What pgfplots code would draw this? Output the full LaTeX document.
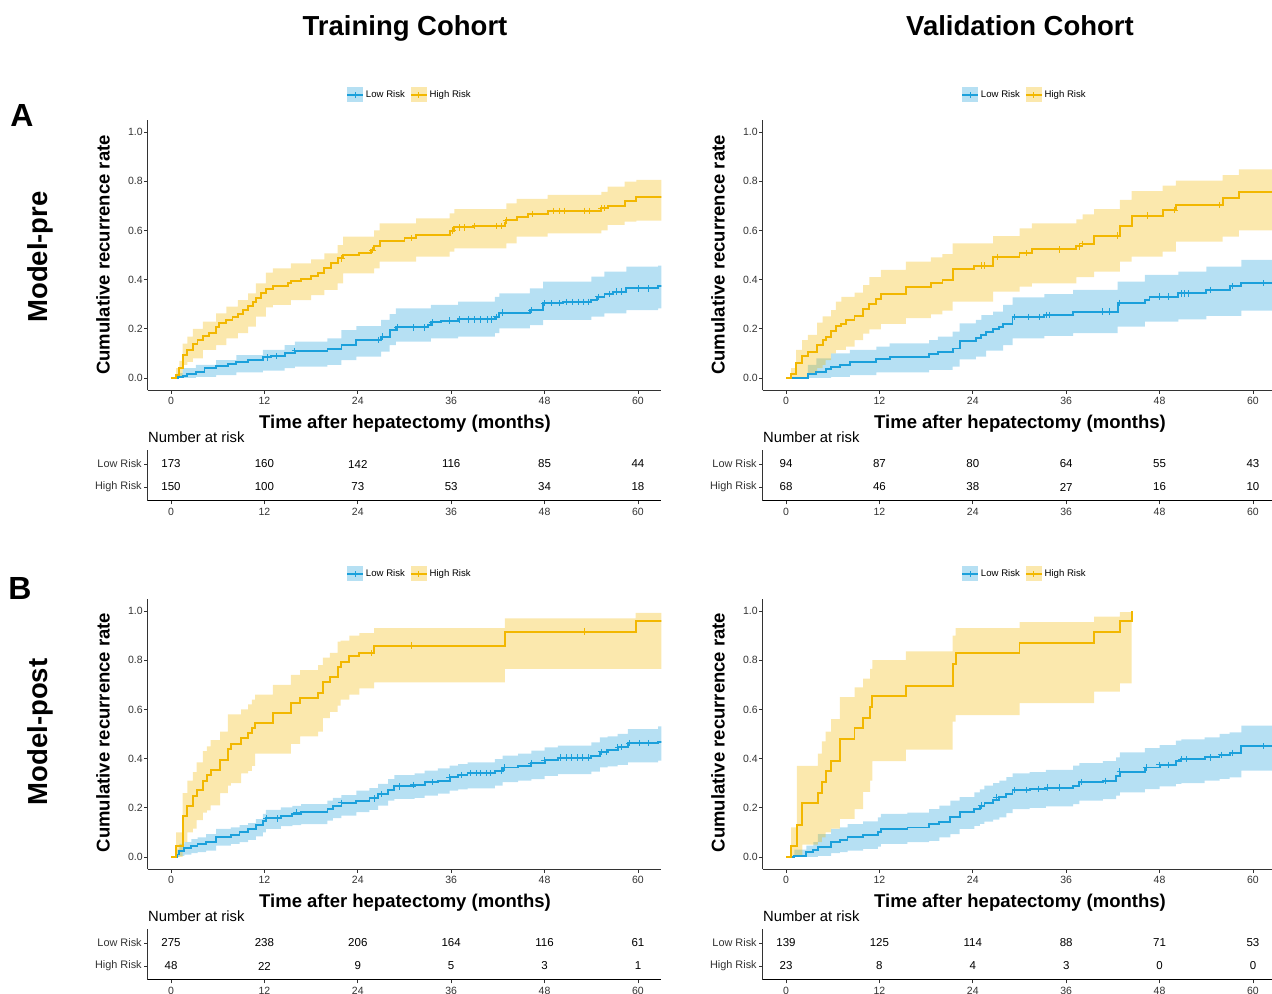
\documentclass[border=0pt]{standalone}
\usepackage{pgfplots}
\pgfplotsset{compat=1.18}
\usepackage{pgfplotstable}
\usepgfplotslibrary{fillbetween}
\usepackage{fontspec}
\setmainfont{Liberation Sans}
\definecolor{lowcol}{HTML}{1BA0DB}
\definecolor{highcol}{HTML}{F2B700}
\definecolor{axcol}{HTML}{333333}
\newcommand{\fs}[2]{\fontsize{#1bp}{#2bp}\selectfont}

% ---------------- data: t  y(estimate)  u(upper)  l(lower)
\pgfplotstableread{
t y u l
0 0 0 0
0.64 0.012 0.04 0
1.07 0.04 0.07 0
1.5 0.093 0.14 0.053
2.1 0.114 0.168 0.066
2.8 0.14 0.20 0.08
3.4 0.154 0.20 0.08
4.1 0.17 0.229 0.114
4.9 0.184 0.229 0.114
5.8 0.206 0.263 0.134
6.2 0.222 0.263 0.134
7.1 0.236 0.29 0.161
7.9 0.249 0.29 0.161
8.6 0.26 0.317 0.182
9.2 0.276 0.317 0.182
9.9 0.293 0.344 0.209
10.5 0.31 0.344 0.209
10.9 0.324 0.385 0.249
11.6 0.344 0.385 0.249
12.2 0.36 0.428 0.287
13.1 0.375 0.446 0.297
15.0 0.385 0.446 0.297
15.4 0.394 0.466 0.317
16.7 0.402 0.466 0.317
18.0 0.415 0.482 0.337
18.9 0.428 0.482 0.337
19.7 0.446 0.507 0.358
20.6 0.466 0.507 0.358
21.4 0.486 0.54 0.385
22.1 0.50 0.575 0.425
24.2 0.507 0.575 0.425
25.7 0.52 0.575 0.425
26.1 0.537 0.60 0.446
26.8 0.558 0.629 0.473
30.0 0.568 0.629 0.473
31.5 0.581 0.649 0.493
35.8 0.599 0.669 0.514
36.4 0.612 0.686 0.527
38.8 0.618 0.686 0.527
42.9 0.629 0.686 0.527
43.1 0.642 0.71 0.547
44.4 0.656 0.728 0.575
45.9 0.667 0.728 0.575
48.4 0.68 0.744 0.588
55.3 0.69 0.757 0.60
56.1 0.699 0.778 0.622
58.3 0.721 0.798 0.636
59.8 0.734 0.805 0.64
64 0.734 0.805 0.64
}\TLhigh
\pgfplotstableread{
t y u l
0 0 0 0
0.9 0.005 0.02 0
1.5 0.008 0.04 0
2.1 0.016 0.04 0
3.2 0.026 0.053 0.005
4.3 0.04 0.053 0.005
5.8 0.05 0.073 0.012
7.3 0.057 0.073 0.012
8.4 0.064 0.093 0.023
9.9 0.073 0.093 0.023
11.8 0.084 0.114 0.03
12.9 0.089 0.114 0.03
14.6 0.10 0.134 0.04
15.9 0.11 0.148 0.046
20.1 0.117 0.161 0.053
21.9 0.134 0.195 0.073
23.8 0.154 0.211 0.087
27.0 0.168 0.236 0.107
28.1 0.195 0.26 0.134
28.9 0.206 0.283 0.148
33.0 0.215 0.283 0.148
33.4 0.226 0.297 0.161
34.7 0.233 0.297 0.161
36.9 0.238 0.31 0.168
41.6 0.249 0.33 0.182
42.2 0.266 0.344 0.202
46.1 0.276 0.364 0.215
47.8 0.304 0.392 0.236
50.4 0.31 0.392 0.236
54.0 0.317 0.412 0.249
54.7 0.33 0.412 0.249
55.7 0.341 0.432 0.263
56.8 0.351 0.432 0.263
58.5 0.364 0.453 0.276
62.6 0.375 0.457 0.283
64 0.375 0.457 0.283
}\TLlow
\pgfplotstableread{
t y u l
0 0 0 0
0.64 0.016 0.04 0
1.3 0.06 0.114 0
2.06 0.09 0.154 0.005
2.8 0.104 0.175 0.02
4.0 0.134 0.225 0.04
4.7 0.154 0.25 0.053
5.1 0.165 0.25 0.073
5.8 0.19 0.276 0.10
6.4 0.21 0.31 0.114
7.1 0.22 0.33 0.114
7.7 0.236 0.33 0.127
8.8 0.253 0.347 0.154
9.9 0.28 0.378 0.18
10.7 0.30 0.41 0.198
11.6 0.32 0.41 0.198
12.2 0.34 0.44 0.22
15.4 0.37 0.473 0.243
18.6 0.385 0.49 0.259
20.1 0.40 0.504 0.274
21.4 0.443 0.547 0.31
24.2 0.457 0.547 0.31
26.6 0.493 0.577 0.351
30.0 0.507 0.608 0.371
31.6 0.523 0.629 0.385
37.3 0.535 0.645 0.41
38.1 0.545 0.665 0.41
39.6 0.579 0.686 0.432
42.9 0.618 0.724 0.473
44.4 0.66 0.76 0.493
48.4 0.683 0.782 0.514
50.1 0.703 0.802 0.554
56.1 0.73 0.825 0.575
58.2 0.756 0.848 0.60
64 0.756 0.848 0.60
}\TRhigh
\pgfplotstableread{
t y u l
0 0 0 0
2.8 0.016 0.053 0
3.9 0.026 0.08 0
5.1 0.035 0.08 0
5.8 0.046 0.10 0.005
6.9 0.053 0.10 0.005
8.2 0.064 0.114 0.012
11.6 0.076 0.127 0.023
13.3 0.087 0.141 0.023
18.4 0.098 0.154 0.033
19.5 0.107 0.168 0.033
21.4 0.12 0.188 0.046
22.3 0.152 0.222 0.076
24.4 0.161 0.236 0.087
25.1 0.175 0.256 0.087
25.7 0.188 0.256 0.111
26.6 0.198 0.27 0.111
27.4 0.209 0.27 0.111
27.9 0.22 0.297 0.134
29.1 0.249 0.328 0.161
33.2 0.256 0.341 0.171
36.9 0.27 0.358 0.182
42.6 0.306 0.392 0.209
46.1 0.317 0.419 0.229
46.7 0.331 0.419 0.229
50.4 0.344 0.432 0.238
54.0 0.358 0.453 0.252
57.0 0.374 0.453 0.252
58.5 0.385 0.48 0.274
64 0.385 0.48 0.274
}\TRlow
\pgfplotstableread{
t y u l
0 0 0 0
0.64 0.043 0.10 0
1.5 0.168 0.26 0.06
2.1 0.209 0.31 0.10
2.8 0.249 0.345 0.115
3.3 0.272 0.385 0.15
4.1 0.31 0.43 0.18
4.6 0.333 0.45 0.19
5.1 0.355 0.475 0.21
6.3 0.396 0.51 0.26
7.3 0.439 0.58 0.29
7.7 0.46 0.58 0.30
9.0 0.482 0.60 0.34
9.9 0.503 0.62 0.35
10.4 0.523 0.64 0.37
10.8 0.543 0.66 0.42
13.1 0.584 0.70 0.42
15.4 0.626 0.74 0.46
16.6 0.646 0.76 0.49
18.9 0.667 0.78 0.51
19.5 0.71 0.81 0.565
20.4 0.73 0.83 0.59
21.4 0.774 0.875 0.615
21.8 0.794 0.88 0.64
22.9 0.816 0.90 0.66
24.2 0.829 0.91 0.685
26.1 0.859 0.93 0.71
42.9 0.916 0.97 0.765
59.7 0.958 0.992 0.765
64 0.958 0.992 0.765
}\BLhigh
\pgfplotstableread{
t y u l
0 0 0 0
0.8 0.01 0.03 0
1.07 0.026 0.053 0.005
1.7 0.035 0.06 0.01
2.6 0.046 0.073 0.016
3.4 0.053 0.08 0.02
4.5 0.062 0.093 0.026
5.8 0.08 0.114 0.046
7.7 0.089 0.12 0.053
8.8 0.10 0.13 0.06
9.9 0.114 0.138 0.07
10.9 0.13 0.154 0.084
11.8 0.148 0.175 0.10
12.2 0.157 0.192 0.114
14.1 0.168 0.202 0.125
15.6 0.175 0.208 0.13
16.7 0.182 0.215 0.134
20.1 0.195 0.229 0.148
20.8 0.206 0.24 0.158
21.9 0.22 0.252 0.168
23.8 0.229 0.27 0.182
25.5 0.238 0.28 0.192
26.6 0.256 0.297 0.209
27.9 0.274 0.317 0.229
28.7 0.287 0.333 0.236
31.3 0.293 0.34 0.24
32.6 0.304 0.351 0.249
34.3 0.31 0.36 0.258
35.8 0.324 0.371 0.27
36.9 0.333 0.378 0.275
38.1 0.341 0.385 0.279
41.6 0.351 0.398 0.29
42.6 0.364 0.412 0.304
44.6 0.371 0.42 0.31
46.3 0.382 0.432 0.317
48.0 0.394 0.446 0.33
49.7 0.404 0.453 0.337
54.0 0.412 0.466 0.347
55.1 0.428 0.486 0.364
56.1 0.436 0.49 0.368
57.4 0.446 0.50 0.374
58.7 0.463 0.52 0.385
62.6 0.466 0.531 0.392
64 0.466 0.531 0.392
}\BLlow
\pgfplotstableread{
t y u l
0 0 0 0
0.64 0.046 0.12 0
1.4 0.13 0.37 0.005
2.1 0.22 0.37 0.05
4.1 0.259 0.42 0.06
4.6 0.304 0.47 0.08
5.1 0.348 0.51 0.10
5.8 0.392 0.56 0.115
6.9 0.48 0.65 0.155
8.8 0.523 0.69 0.195
9.9 0.565 0.725 0.265
10.8 0.608 0.765 0.31
11.1 0.653 0.80 0.39
15.4 0.696 0.836 0.436
21.4 0.785 0.90 0.55
21.8 0.828 0.93 0.577
30.0 0.87 0.955 0.626
39.6 0.913 0.977 0.672
42.9 0.958 0.995 0.706
44.4 1.0 1.0 0.706
}\BRhigh
\pgfplotstableread{
t y u l
0 0 0 0
1.07 0.005 0.03 0
2.6 0.019 0.046 0
3.5 0.03 0.06 0
4.1 0.039 0.093 0.005
5.8 0.06 0.114 0.016
6.9 0.07 0.12 0.02
7.9 0.08 0.134 0.026
9.9 0.089 0.145 0.033
11.8 0.10 0.161 0.042
12.2 0.114 0.175 0.053
15.6 0.12 0.18 0.06
18.4 0.134 0.195 0.066
19.7 0.144 0.209 0.08
21.1 0.161 0.229 0.093
22.3 0.182 0.243 0.114
24.2 0.195 0.263 0.127
24.9 0.209 0.275 0.135
25.5 0.22 0.29 0.144
26.6 0.232 0.30 0.152
27.4 0.243 0.31 0.161
28.3 0.256 0.325 0.178
29.1 0.272 0.34 0.195
31.3 0.276 0.345 0.20
33.4 0.282 0.354 0.206
36.9 0.29 0.371 0.215
37.7 0.304 0.382 0.229
40.7 0.31 0.39 0.235
42.4 0.331 0.405 0.249
42.9 0.347 0.425 0.263
46.1 0.364 0.443 0.276
48.0 0.375 0.455 0.287
50.1 0.392 0.473 0.297
50.8 0.398 0.478 0.30
53.8 0.405 0.486 0.31
55.7 0.415 0.50 0.318
57.0 0.423 0.507 0.324
58.5 0.45 0.534 0.351
64 0.45 0.534 0.351
}\BRlow

% censoring marks
\pgfplotstableread{
t y
21.9 0.486
25.9 0.52
30.9 0.568
36.2 0.599
37.1 0.612
37.7 0.612
39.0 0.618
41.8 0.618
42.4 0.618
43.1 0.642
46.5 0.667
49.1 0.68
49.9 0.68
50.6 0.68
53.1 0.68
53.8 0.68
55.3 0.69
55.7 0.69
}\TLhighC
\pgfplotstableread{
t y
12.4 0.084
13.5 0.089
15.9 0.11
26.6 0.154
27.2 0.168
29.1 0.206
31.1 0.206
32.6 0.206
33.6 0.226
35.8 0.233
37.1 0.238
38.2 0.238
39.0 0.238
39.8 0.238
40.6 0.238
41.2 0.238
41.8 0.249
42.6 0.266
46.3 0.276
48.0 0.304
48.9 0.304
49.9 0.304
50.8 0.31
51.6 0.31
52.3 0.31
53.0 0.31
53.6 0.31
54.9 0.33
56.4 0.341
57.2 0.351
57.9 0.351
60.0 0.364
61.3 0.364
}\TLlowC
\pgfplotstableread{
t y
25.1 0.457
25.5 0.457
27.2 0.493
30.9 0.507
35.1 0.523
37.7 0.535
38.1 0.545
42.6 0.579
46.5 0.66
49.9 0.683
55.7 0.703
}\TRhighC
\pgfplotstableread{
t y
29.4 0.249
31.1 0.249
32.6 0.249
33.4 0.256
33.9 0.256
40.7 0.27
41.6 0.27
42.9 0.306
48.0 0.331
49.1 0.331
50.8 0.344
51.2 0.344
51.7 0.344
54.6 0.358
57.4 0.374
61.3 0.385
}\TRlowC
\pgfplotstableread{
t y
25.7 0.829
30.9 0.859
53.1 0.916
}\BLhighC
\pgfplotstableread{
t y
12.2 0.157
13.7 0.157
16.1 0.182
21.9 0.22
26.1 0.238
27.0 0.256
29.4 0.287
31.1 0.293
33.6 0.304
35.8 0.324
37.3 0.333
38.5 0.341
39.2 0.341
39.8 0.341
40.5 0.341
41.1 0.341
42.4 0.351
42.9 0.364
46.3 0.382
48.0 0.394
50.1 0.404
50.8 0.404
51.5 0.404
52.2 0.404
52.9 0.404
53.6 0.404
55.3 0.428
55.9 0.428
57.4 0.446
57.9 0.446
58.9 0.463
60.2 0.463
61.3 0.463
}\BLlowC
\pgfplotstableread{
t y
25.1 0.209
27.0 0.243
29.4 0.272
30.9 0.272
32.4 0.276
33.6 0.282
35.1 0.282
37.9 0.304
41.1 0.31
42.9 0.347
46.3 0.364
48.0 0.375
49.1 0.375
50.8 0.398
51.4 0.398
54.6 0.405
55.9 0.415
57.4 0.423
61.3 0.45
}\BRlowC

\pgfplotsset{
  lowleg/.style={legend image code/.code={
     \fill[lowcol, fill opacity=0.32, draw=none] (0bp,-7.5bp) rectangle (16bp,7.5bp);
     \draw[lowcol, line width=1.7bp] (0bp,0bp) -- (16bp,0bp);
     \draw[lowcol, line width=0.9bp] (8bp,-3bp) -- (8bp,3bp);}},
  highleg/.style={legend image code/.code={
     \fill[highcol, fill opacity=0.32, draw=none] (0bp,-7.5bp) rectangle (16bp,7.5bp);
     \draw[highcol, line width=1.7bp] (0bp,0bp) -- (16bp,0bp);
     \draw[highcol, line width=0.9bp] (8bp,-3bp) -- (8bp,3bp);}},
  common/.style={scale only axis, width=513.6bp, xmin=-3, xmax=63,
     axis x line=bottom, axis y line=left,
     axis line style={-, axcol, line width=1.1bp},
     every outer x axis line/.append style={-},
     every outer y axis line/.append style={-},
     tick align=outside, major tick length=3.5bp,
     tick style={axcol, line width=0.8bp},
     xtick={0,12,24,36,48,60}, xticklabels={0,12,24,36,48,60},
     ticklabel style={font=\fs{10.5}{12}, text=axcol},
     minor tick num=0},
  kmaxis/.style={common, height=270.6bp, ymin=-0.05, ymax=1.05,
     ytick={0,0.2,0.4,0.6,0.8,1}, yticklabels={0.0,0.2,0.4,0.6,0.8,1.0},
     yticklabel style={xshift=2bp},
     legend style={at={(0.5097,1.0913)}, anchor=center, draw=none, fill=none,
        legend columns=2, font=\fs{9.6}{11}, inner sep=0pt,
        /tikz/every even column/.append style={column sep=3bp}},
     legend cell align=left},
  rtaxis/.style={common, height=50.6bp, ymin=0.4, ymax=2.6, ytick={1,2},
     yticklabels={High Risk, Low Risk},
     x axis line style={black, line width=1.3bp},
     yticklabel style={font=\fs{10.9}{13}, text=axcol, xshift=1bp}},
  band/.style={fill=#1, fill opacity=0.32, draw=none, forget plot},
  curve/.style={const plot, #1, line width=1.9bp, forget plot},
  cens/.style={only marks, mark=+, mark size=3.2bp, #1, mark options={line width=0.9bp}, forget plot},
  rtnum/.style={only marks, mark=none, nodes near coords, point meta=explicit symbolic,
     nodes near coords style={anchor=center, font=\fs{11.5}{13}, text=black, inner sep=0pt}, forget plot}
}

\newcommand{\km}[2]{%
  \addplot[const plot, draw=none, name path=LU, forget plot] table[x=t,y=u]{#1};
  \addplot[const plot, draw=none, name path=LL, forget plot] table[x=t,y=l]{#1};
  \addplot[band=lowcol] fill between[of=LU and LL];
  \addplot[const plot, draw=none, name path=HU, forget plot] table[x=t,y=u]{#2};
  \addplot[const plot, draw=none, name path=HL, forget plot] table[x=t,y=l]{#2};
  \addplot[band=highcol] fill between[of=HU and HL];
  \addplot[curve=lowcol] table[x=t,y=y]{#1};
  \addplot[curve=highcol] table[x=t,y=y]{#2};
  \addlegendimage{lowleg}\addlegendentry{Low Risk}
  \addlegendimage{highleg}\addlegendentry{High Risk}
}

\begin{document}
\begin{tikzpicture}[x=1bp,y=1bp]

% ---------- A: Training
\begin{axis}[kmaxis, at={(147.7bp,603.7bp)}, anchor=south west]
\km{\TLlow}{\TLhigh}
\addplot[cens=lowcol] table[x=t,y=y]{\TLlowC};
\addplot[cens=highcol] table[x=t,y=y]{\TLhighC};
\end{axis}
\begin{axis}[rtaxis, at={(147.7bp,493.2bp)}, anchor=south west]
\addplot[rtnum] table[x=t,y=r,meta=n]{
t r n
0 2 173
12 2 160
24 2 142
36 2 116
48 2 85
60 2 44
0 1 150
12 1 100
24 1 73
36 1 53
48 1 34
60 1 18
};
\end{axis}

% ---------- A: Validation
\begin{axis}[kmaxis, at={(762.7bp,603.7bp)}, anchor=south west]
\km{\TRlow}{\TRhigh}
\addplot[cens=lowcol] table[x=t,y=y]{\TRlowC};
\addplot[cens=highcol] table[x=t,y=y]{\TRhighC};
\end{axis}
\begin{axis}[rtaxis, at={(762.7bp,493.2bp)}, anchor=south west]
\addplot[rtnum] table[x=t,y=r,meta=n]{
t r n
0 2 94
12 2 87
24 2 80
36 2 64
48 2 55
60 2 43
0 1 68
12 1 46
24 1 38
36 1 27
48 1 16
60 1 10
};
\end{axis}

% ---------- B: Training
\begin{axis}[kmaxis, at={(147.7bp,124.7bp)}, anchor=south west]
\km{\BLlow}{\BLhigh}
\addplot[cens=lowcol] table[x=t,y=y]{\BLlowC};
\addplot[cens=highcol] table[x=t,y=y]{\BLhighC};
\end{axis}
\begin{axis}[rtaxis, at={(147.7bp,14.2bp)}, anchor=south west]
\addplot[rtnum] table[x=t,y=r,meta=n]{
t r n
0 2 275
12 2 238
24 2 206
36 2 164
48 2 116
60 2 61
0 1 48
12 1 22
24 1 9
36 1 5
48 1 3
60 1 1
};
\end{axis}

% ---------- B: Validation
\begin{axis}[kmaxis, at={(762.7bp,124.7bp)}, anchor=south west]
\km{\BRlow}{\BRhigh}
\addplot[cens=lowcol] table[x=t,y=y]{\BRlowC};
\end{axis}
\begin{axis}[rtaxis, at={(762.7bp,14.2bp)}, anchor=south west]
\addplot[rtnum] table[x=t,y=r,meta=n]{
t r n
0 2 139
12 2 125
24 2 114
36 2 88
48 2 71
60 2 53
0 1 23
12 1 8
24 1 4
36 1 3
48 1 0
60 1 0
};
\end{axis}

% ---------- texts
\node[font=\fs{27.5}{32}\bfseries, inner sep=0pt, anchor=base] at (405bp,958bp) {Training Cohort};
\node[font=\fs{27.5}{32}\bfseries, inner sep=0pt, anchor=base] at (1020bp,958bp) {Validation Cohort};
\node[font=\fs{32}{36}\bfseries, inner sep=0pt] at (22bp,878bp) {A};
\node[font=\fs{32}{36}\bfseries, inner sep=0pt] at (20bp,406bp) {B};
\node[font=\fs{27.5}{32}\bfseries, rotate=90, inner sep=0pt] at (40bp,737bp) {Model-pre};
\node[font=\fs{27.5}{32}\bfseries, rotate=90, inner sep=0pt] at (40bp,262bp) {Model-post};
\foreach \xx in {103,718}{
  \node[font=\fs{18.5}{22}\bfseries, rotate=90, inner sep=0pt] at (\xx bp,739bp) {Cumulative recurrence rate};
  \node[font=\fs{18.5}{22}\bfseries, rotate=90, inner sep=0pt] at (\xx bp,261.5bp) {Cumulative recurrence rate};
}
\foreach \xx in {405,1020}{
  \node[font=\fs{18.5}{22}\bfseries, inner sep=0pt] at (\xx bp,570.5bp) {Time after hepatectomy (months)};
  \node[font=\fs{18.5}{22}\bfseries, inner sep=0pt] at (\xx bp,91.5bp) {Time after hepatectomy (months)};
}
\foreach \xx in {148,763}{
  \node[font=\fs{14.8}{17}, anchor=west, inner sep=0pt] at (\xx bp,557bp) {Number at risk};
  \node[font=\fs{14.8}{17}, anchor=west, inner sep=0pt] at (\xx bp,78bp) {Number at risk};
}
\pgfresetboundingbox
\path[use as bounding box] (0bp,0bp) rectangle (1272bp,994bp);
\end{tikzpicture}
\end{document}
